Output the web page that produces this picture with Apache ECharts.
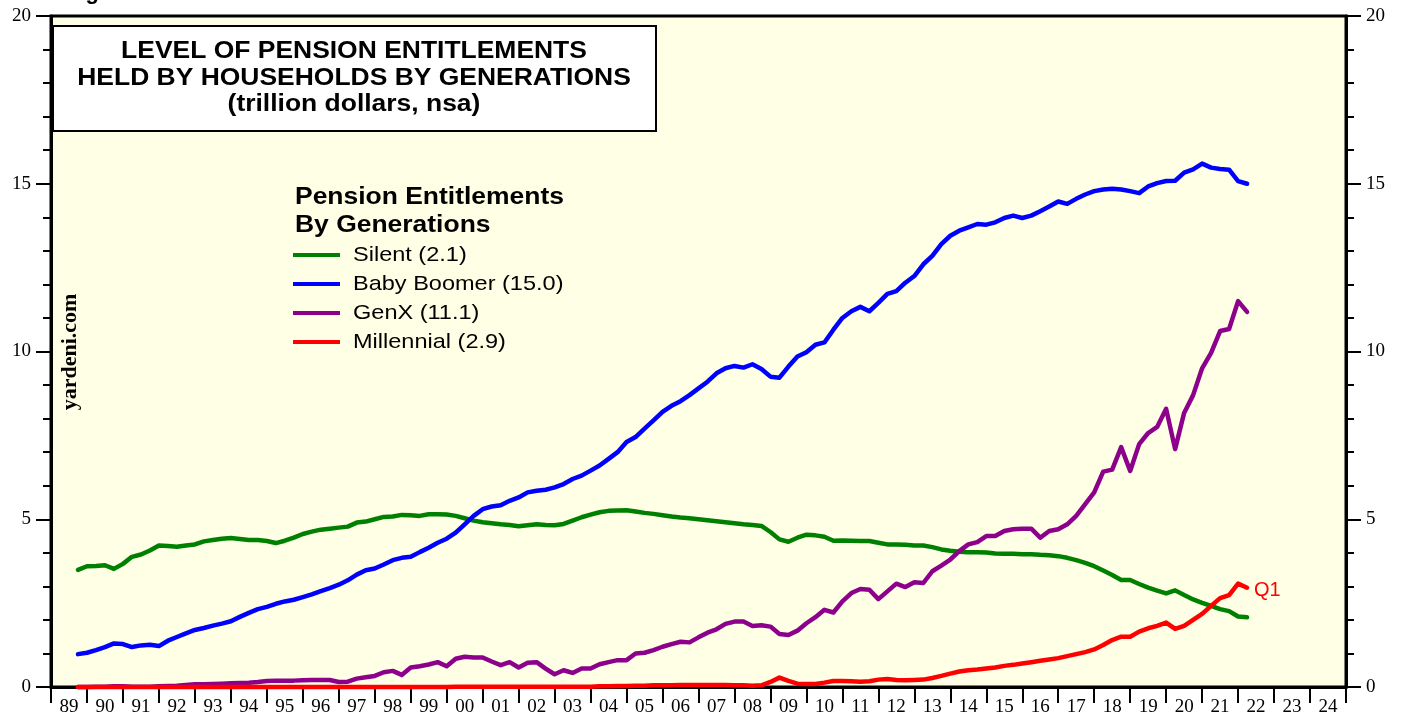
<!DOCTYPE html>
<html><head><meta charset="utf-8">
<script src="https://cdn.jsdelivr.net/npm/echarts@6/dist/echarts.min.js"></script>
<style>html,body{margin:0;padding:0;background:#fff}#c{width:1405px;height:721px}</style>
</head><body><div id="c"></div>
<script>
// ---- DATA (quarterly, 1989Q3 .. 2022Q1, trillion dollars) ----
const yearLabels = ['89','90','91','92','93','94','95','96','97','98','99','00','01','02','03','04','05','06','07','08','09','10','11','12','13','14','15','16','17','18','19','20','21','22','23','24'];
const firstQuarterEnd = 1989.75; // 1989Q3 plotted at quarter end
const seriesNames = ['Silent (2.1)','Baby Boomer (15.0)','GenX (11.1)','Millennial (2.9)'];
const silent = [
 3.49,3.60,
 3.61,3.63,3.52,3.67, 3.88,3.95,4.07,4.22, 4.20,4.18,4.22,4.25, 4.34,4.38,4.42,4.44,
 4.41,4.38,4.38,4.35, 4.29,4.36,4.45,4.56, 4.63,4.69,4.72,4.75, 4.78,4.90,4.93,5.00,
 5.07,5.08,5.13,5.12, 5.10,5.15,5.15,5.14, 5.10,5.03,4.96,4.91, 4.88,4.85,4.83,4.79,
 4.82,4.85,4.83,4.82, 4.86,4.96,5.06,5.14, 5.21,5.25,5.26,5.27, 5.23,5.19,5.16,5.12,
 5.08,5.05,5.03,5.00, 4.97,4.94,4.91,4.88, 4.85,4.83,4.80,4.62, 4.40,4.33,4.45,4.54,
 4.52,4.48,4.36,4.37, 4.36,4.35,4.35,4.30, 4.25,4.25,4.24,4.22, 4.22,4.17,4.10,4.06,
 4.03,4.02,4.02,4.01, 3.98,3.97,3.97,3.96, 3.96,3.94,3.93,3.90, 3.85,3.78,3.70,3.60,
 3.47,3.34,3.19,3.19, 3.07,2.96,2.87,2.79, 2.88,2.74,2.61,2.51, 2.42,2.32,2.26,2.10,
 2.08];
const boomer = [
 0.98,1.02,
 1.10,1.19,1.30,1.28, 1.19,1.24,1.26,1.22, 1.38,1.49,1.60,1.70, 1.76,1.83,1.89,1.96,
 2.09,2.21,2.32,2.39, 2.48,2.55,2.60,2.68, 2.76,2.86,2.95,3.05, 3.18,3.35,3.48,3.53,
 3.65,3.78,3.85,3.88, 4.02,4.15,4.30,4.42, 4.60,4.85,5.10,5.30, 5.38,5.42,5.55,5.65,
 5.80,5.85,5.88,5.95, 6.05,6.20,6.30,6.45, 6.60,6.80,7.00,7.30, 7.45,7.70,7.95,8.20,
 8.38,8.52,8.70,8.90, 9.10,9.35,9.50,9.57, 9.52,9.62,9.48,9.25, 9.22,9.55,9.85,9.98,
 10.20,10.27,10.65,11.00, 11.20,11.33,11.20,11.45, 11.72,11.80,12.05,12.25, 12.60,12.85,13.20,13.45,
 13.60,13.70,13.80,13.78, 13.85,13.98,14.05,13.98, 14.05,14.18,14.32,14.47, 14.40,14.55,14.68,14.78,
 14.83,14.85,14.83,14.78, 14.72,14.92,15.02,15.08, 15.09,15.33,15.43,15.60, 15.48,15.44,15.42,15.08,
 15.00];
const genx = [
 0.00,0.00,
 0.01,0.01,0.02,0.02, 0.01,0.01,0.01,0.02, 0.03,0.04,0.06,0.08, 0.08,0.09,0.10,0.11,
 0.12,0.13,0.15,0.18, 0.19,0.19,0.19,0.20, 0.21,0.21,0.21,0.15, 0.16,0.25,0.29,0.33,
 0.44,0.48,0.36,0.58, 0.62,0.67,0.74,0.62, 0.84,0.90,0.88,0.88, 0.76,0.65,0.74,0.58,
 0.72,0.74,0.55,0.38, 0.50,0.42,0.55,0.55, 0.68,0.74,0.80,0.80, 1.00,1.02,1.10,1.20,
 1.28,1.35,1.33,1.48, 1.62,1.72,1.88,1.95, 1.95,1.82,1.84,1.80, 1.58,1.55,1.68,1.90,
 2.08,2.30,2.22,2.55, 2.80,2.92,2.90,2.62, 2.85,3.08,2.98,3.12, 3.10,3.45,3.62,3.80,
 4.05,4.25,4.32,4.50, 4.50,4.65,4.70,4.72, 4.72,4.45,4.65,4.70, 4.85,5.10,5.45,5.80,
 6.42,6.48,7.15,6.44, 7.24,7.57,7.75,8.29, 7.09,8.17,8.70,9.50, 9.96,10.61,10.67,11.50,
 11.18];
const millennial = [
 0.00,0.00,
 0.00,0.00,0.00,0.00, 0.00,0.00,0.00,0.00, 0.00,0.00,0.00,0.00, 0.00,0.00,0.00,0.00,
 0.00,0.00,0.00,0.00, 0.00,0.00,0.00,0.00, 0.00,0.00,0.00,0.00, 0.00,0.00,0.00,0.00,
 0.00,0.00,0.00,0.00, 0.00,0.00,0.00,0.00, 0.01,0.01,0.01,0.01, 0.01,0.01,0.01,0.01,
 0.01,0.01,0.01,0.01, 0.01,0.01,0.01,0.01, 0.02,0.02,0.03,0.03, 0.04,0.04,0.05,0.05,
 0.05,0.06,0.06,0.06, 0.06,0.06,0.06,0.05, 0.05,0.04,0.05,0.15, 0.28,0.18,0.10,0.09,
 0.09,0.13,0.18,0.18, 0.17,0.16,0.17,0.22, 0.24,0.21,0.20,0.21, 0.22,0.27,0.33,0.40,
 0.46,0.50,0.52,0.55, 0.58,0.63,0.66,0.70, 0.74,0.78,0.82,0.86, 0.92,0.98,1.04,1.12,
 1.25,1.40,1.50,1.50, 1.65,1.75,1.82,1.92, 1.73,1.82,2.00,2.18, 2.42,2.65,2.74,3.08,
 2.96];
const seriesColors = ['#008000','#0000FF','#8C008C','#FF0000'];

// ---- CHART ----
const toPairs = arr => arr.map((v, i) => [firstQuarterEnd + i * 0.25, v]);
const chart = echarts.init(document.getElementById('c'), null, {renderer: 'canvas'});
const SANS = 'Liberation Sans, Arial, sans-serif';
const SERIF = 'Liberation Serif, Times New Roman, serif';

const yAxisBase = pos => ({
  type: 'value', position: pos, min: 0, max: 20, interval: 5,
  axisLine: {show: true, lineStyle: {color: '#000', width: 3}},
  axisTick: {show: true, length: 15, lineStyle: {color: '#000', width: 2}},
  minorTick: {show: true, splitNumber: 5, length: 8, lineStyle: {color: '#000', width: 2}},
  axisLabel: {margin: 20, color: '#000', fontFamily: SERIF, fontSize: 19},
  splitLine: {show: false}
});

const legendRowsY = [255, 284, 313, 342];
const graphics = [
  {type: 'text', x: 66, y: 4, style: {text: 'Figure', font: 'bold 22px ' + SANS, fill: '#000', textAlign: 'left', textVerticalAlign: 'bottom'}},
  {type: 'rect', shape: {x: 53, y: 26, width: 603, height: 105}, style: {fill: '#fff', stroke: '#000', lineWidth: 2}, z: 10},
  {type: 'text', x: 354, y: 52, scaleX: 1.15, style: {text: 'LEVEL OF PENSION ENTITLEMENTS', font: 'bold 23px ' + SANS, fill: '#000', textAlign: 'center', textVerticalAlign: 'middle'}, z: 11},
  {type: 'text', x: 354, y: 79, scaleX: 1.15, style: {text: 'HELD BY HOUSEHOLDS BY GENERATIONS', font: 'bold 23px ' + SANS, fill: '#000', textAlign: 'center', textVerticalAlign: 'middle'}, z: 11},
  {type: 'text', x: 354, y: 105, scaleX: 1.15, style: {text: '(trillion dollars, nsa)', font: 'bold 23px ' + SANS, fill: '#000', textAlign: 'center', textVerticalAlign: 'middle'}, z: 11},
  {type: 'text', x: 295, y: 198, scaleX: 1.15, style: {text: 'Pension Entitlements', font: 'bold 23px ' + SANS, fill: '#000', textAlign: 'left', textVerticalAlign: 'middle'}, z: 11},
  {type: 'text', x: 295, y: 226, scaleX: 1.15, style: {text: 'By Generations', font: 'bold 23px ' + SANS, fill: '#000', textAlign: 'left', textVerticalAlign: 'middle'}, z: 11},
  {type: 'text', x: 70, y: 352, rotation: Math.PI / 2, style: {text: 'yardeni.com', font: 'bold 22px ' + SERIF, fill: '#000', textAlign: 'center', textVerticalAlign: 'middle'}, z: 11},
  {type: 'text', x: 1254, y: 590, style: {text: 'Q1', font: '20px ' + SANS, fill: '#FF0000', textAlign: 'left', textVerticalAlign: 'middle'}, z: 11}
];
seriesNames.forEach((n, k) => {
  graphics.push({type: 'line', shape: {x1: 293, y1: legendRowsY[k], x2: 340, y2: legendRowsY[k]}, style: {stroke: seriesColors[k], lineWidth: 4}, z: 11});
  graphics.push({type: 'text', x: 353, y: legendRowsY[k], scaleX: 1.12, style: {text: n, font: '21px ' + SANS, fill: '#000', textAlign: 'left', textVerticalAlign: 'middle'}, z: 11});
});

const dataSets = [silent, boomer, genx, millennial];
chart.setOption({
  animation: false,
  backgroundColor: '#fff',
  grid: {left: 51, right: 59, top: 16, bottom: 34, show: true, backgroundColor: '#FFFFE5', borderColor: '#000', borderWidth: 3},
  xAxis: [
    {type: 'category', data: yearLabels, position: 'bottom', boundaryGap: true,
     axisLine: {show: true, lineStyle: {color: '#000', width: 3}},
     axisTick: {show: true, interval: 0, length: 16, alignWithLabel: false, lineStyle: {color: '#000', width: 2}},
     axisLabel: {interval: 0, margin: 11, color: '#000', fontFamily: SERIF, fontSize: 19},
     splitLine: {show: false}},
    {type: 'value', min: 1989, max: 2025, show: false}
  ],
  yAxis: [yAxisBase('left'), yAxisBase('right')],
  series: dataSets.map((d, k) => ({
    name: seriesNames[k], type: 'line', xAxisIndex: 1, yAxisIndex: 0,
    data: toPairs(d), showSymbol: false, symbol: 'none', clip: false,
    lineStyle: {color: seriesColors[k], width: 4.5, join: 'round', cap: 'round'},
    z: 3 + k
  })),
  graphic: graphics
});
</script></body></html>
